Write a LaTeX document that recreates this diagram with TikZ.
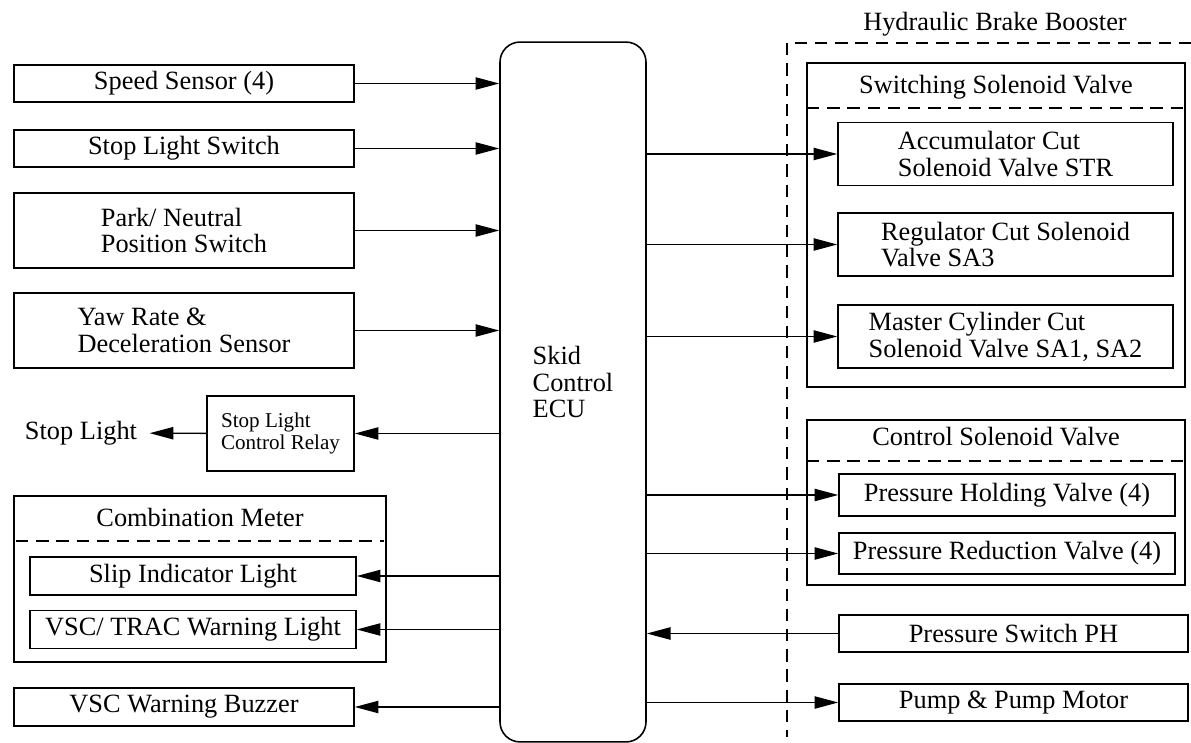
\documentclass[tikz,border=0pt]{standalone}
\usepackage{fontspec}
\setmainfont{Liberation Serif}
\usetikzlibrary{arrows.meta}
\tikzset{
	unit/.style={draw,line width=0.9pt,inner sep=0pt},
	grp/.style={draw,line width=0.9pt,inner sep=0pt},
	sep/.style={line width=0.8pt,dash pattern=on 7pt off 4.5pt},
	sig/.style={line width=0.8pt,-{Triangle[length=13.5pt,width=7pt]}},
}
\begin{document}
\begin{tikzpicture}[x=0.02cm,y=-0.02cm,font=\fontsize{15}{15.3}\selectfont]
			\useasboundingbox (0,0) rectangle (1191,743);
			\node[draw,line width=0.9pt,rounded corners=0.4cm,minimum width=2.92cm,minimum height=14cm](ecu) at (573,392) {};
			\node[align=left](ecutxt) at (573,382) {Skid\\Control\\ECU};
			\node[unit,minimum width=6.8cm,minimum height=0.74cm](speed) at (184,83.5) {Speed Sensor (4)};
			\node[unit,minimum width=6.8cm,minimum height=0.74cm](stopsw) at (184,148.5) {Stop Light Switch};
			\node[unit,minimum width=6.8cm,minimum height=1.5cm,align=left](park) at (184,230.5)
			{Park/ Neutral\\Position Switch};
			\node[unit,minimum width=6.8cm,minimum height=1.5cm,align=left](yaw) at (184,330.5)
			{Yaw Rate \&\\Deceleration Sensor};
			\node[unit,minimum width=2.94cm,minimum height=1.5cm,align=left,font=\fontsize{12}{12}\selectfont](relay) at (280.5,433.5)
			{Stop Light\\Control Relay};
			\node[inner xsep=7pt](stoplight) at (81,433) {Stop Light};
			\node[grp,minimum width=7.44cm,minimum height=3.32cm](meter) at (200,579) {};
			\node(metertitle) at (200,517) {Combination Meter};
			\draw[sep] (16,541) -- (384,541);
			\node[unit,minimum width=6.52cm,minimum height=0.76cm](slip) at (193,576) {Slip Indicator Light};
			\node[unit,minimum width=6.52cm,minimum height=0.76cm](vsc) at (193,629.5) {VSC/ TRAC Warning Light};
			\node[unit,minimum width=6.8cm,minimum height=0.76cm](buzzer) at (184,707) {VSC Warning Buzzer};
			\draw[sep] (1191,43) -- (787,43) -- (787,737);
			\node(booster) at (995,24) {Hydraulic Brake Booster};
			\node[grp,minimum width=7.56cm,minimum height=6.48cm](switching) at (996,225) {};
			\node(swtitle) at (996,87) {Switching Solenoid Valve};
			\draw[sep] (807,108) -- (1185,108);
			\node[unit,minimum width=6.7cm,minimum height=1.26cm,align=left](accu) at (1005.5,154)
			{Accumulator Cut\\Solenoid Valve STR};
			\node[unit,minimum width=6.7cm,minimum height=1.26cm,align=left](reg) at (1005.5,244.5)
			{Regulator Cut Solenoid\\Valve SA3};
			\node[unit,minimum width=6.7cm,minimum height=1.26cm,align=left](master) at (1005.5,336.5)
			{Master Cylinder Cut\\Solenoid Valve SA1, SA2};
			\node[grp,minimum width=7.56cm,minimum height=3.3cm](control) at (996,502.5) {};
			\node(cttitle) at (996,437) {Control Solenoid Valve};
			\draw[sep] (807,461) -- (1185,461);
			\node[unit,minimum width=6.72cm,minimum height=0.84cm](hold) at (1007,495) {Pressure Holding Valve (4)};
			\node[unit,minimum width=6.72cm,minimum height=0.82cm](reduce) at (1007,553.5) {Pressure Reduction Valve (4)};
			\node[unit,minimum width=6.98cm,minimum height=0.74cm](psw) at (1013.5,633.5) {Pressure Switch PH};
			\node[unit,minimum width=6.98cm,minimum height=0.74cm](pump) at (1013.5,702.5) {Pump \& Pump Motor};
			\draw[sig] (speed) -- (speed -| ecu.west);
			\draw[sig] (stopsw) -- (stopsw -| ecu.west);
			\draw[sig] (park) -- (park -| ecu.west);
			\draw[sig] (yaw) -- (yaw -| ecu.west);
			\draw[sig] (ecu.west |- relay) -- (relay);
			\draw[sig] (relay) -- (stoplight);
			\draw[sig] (ecu.west |- slip) -- (slip);
			\draw[sig] (ecu.west |- vsc) -- (vsc);
			\draw[sig] (ecu.west |- buzzer) -- (buzzer);
			\draw[sig] (ecu.east |- accu) -- (accu);
			\draw[sig] (ecu.east |- reg) -- (reg);
			\draw[sig] (ecu.east |- master) -- (master);
			\draw[sig] (ecu.east |- hold) -- (hold);
			\draw[sig] (ecu.east |- reduce) -- (reduce);
			\draw[sig] (psw) -- (psw -| ecu.east);
			\draw[sig] (ecu.east |- pump) -- (pump);
		\end{tikzpicture}
\end{document}
